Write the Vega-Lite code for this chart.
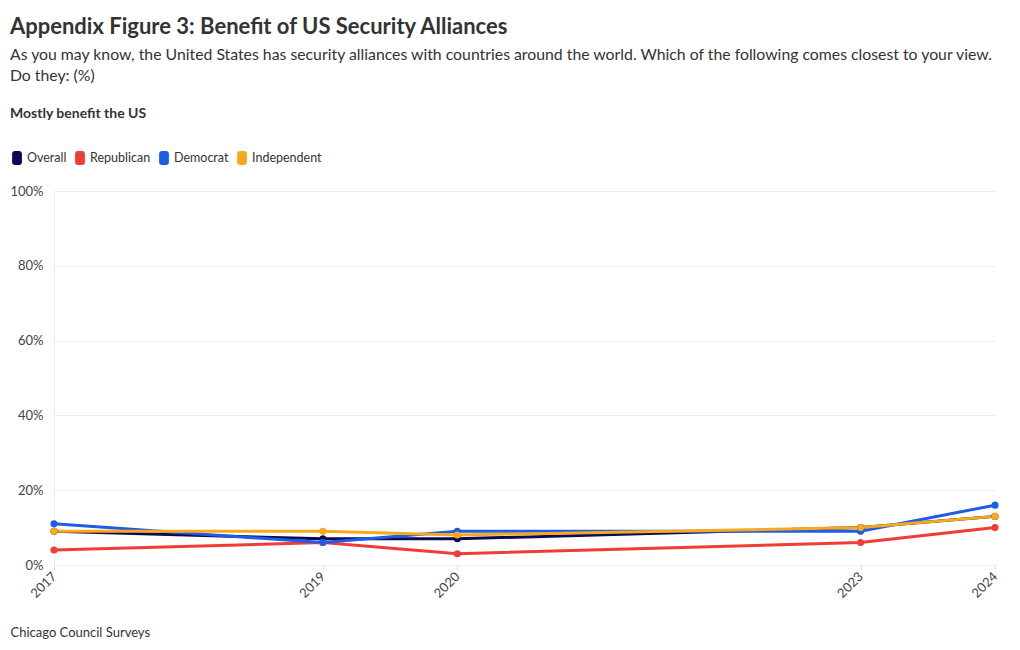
{
  "$schema": "https://vega.github.io/schema/vega-lite/v6.json",
  "autosize": "none",
  "width": 941,
  "height": 374,
  "padding": {"left": 54, "top": 191, "right": 25, "bottom": 85},
  "background": "white",
  "title": {
    "text": "Appendix Figure 3: Benefit of US Security Alliances",
    "subtitle": ["As you may know, the United States has security alliances with countries around the world. Which of the following comes closest to your view.", "Do they: (%)"],
    "anchor": "start",
    "frame": "bounds",
    "font": "Lato",
    "fontSize": 22,
    "fontWeight": "bold",
    "color": "#333333",
    "subtitleFont": "Lato",
    "subtitleFontSize": 15.8,
    "subtitleColor": "#333333",
    "subtitlePadding": 9,
    "subtitleLineHeight": 21,
    "offset": 22
  },
  "data": {
    "values": [
      {"year": 2017, "group": "Overall", "value": 9},
      {"year": 2019, "group": "Overall", "value": 7},
      {"year": 2020, "group": "Overall", "value": 7},
      {"year": 2023, "group": "Overall", "value": 10},
      {"year": 2024, "group": "Overall", "value": 13},
      {"year": 2017, "group": "Republican", "value": 4},
      {"year": 2019, "group": "Republican", "value": 6},
      {"year": 2020, "group": "Republican", "value": 3},
      {"year": 2023, "group": "Republican", "value": 6},
      {"year": 2024, "group": "Republican", "value": 10},
      {"year": 2017, "group": "Democrat", "value": 11},
      {"year": 2019, "group": "Democrat", "value": 6},
      {"year": 2020, "group": "Democrat", "value": 9},
      {"year": 2023, "group": "Democrat", "value": 9},
      {"year": 2024, "group": "Democrat", "value": 16},
      {"year": 2017, "group": "Independent", "value": 9},
      {"year": 2019, "group": "Independent", "value": 9},
      {"year": 2020, "group": "Independent", "value": 8},
      {"year": 2023, "group": "Independent", "value": 10},
      {"year": 2024, "group": "Independent", "value": 13}
    ]
  },
  "encoding": {
    "x": {
      "field": "year",
      "type": "quantitative",
      "scale": {"domain": [2017, 2024], "nice": false, "zero": false},
      "axis": {
        "values": [2017, 2019, 2020, 2023, 2024],
        "format": "d",
        "labelAngle": -45,
        "labelAlign": "right",
        "labelBaseline": "middle",
        "labelPadding": 4,
        "labelFont": "Lato",
        "labelFontSize": 13,
        "labelColor": "#444444",
        "grid": false,
        "domain": false,
        "ticks": true,
        "tickColor": "#dddddd",
        "tickSize": 5,
        "title": "Chicago Council Surveys",
        "titleFont": "Lato",
        "titleFontSize": 13,
        "titleFontWeight": "normal",
        "titleColor": "#333333",
        "titleAlign": "left",
        "titleAnchor": "start",
        "titleBaseline": "middle",
        "titleX": -44,
        "titleY": 67
      }
    },
    "y": {
      "field": "value",
      "type": "quantitative",
      "scale": {"domain": [0, 100], "nice": false},
      "axis": {
        "values": [0, 20, 40, 60, 80, 100],
        "labelExpr": "datum.value + '%'",
        "labelFont": "Lato",
        "labelFontSize": 13,
        "labelColor": "#444444",
        "labelPadding": 11,
        "ticks": false,
        "domain": true,
        "domainColor": "#eeeeee",
        "gridColor": "#eeeeee",
        "title": null
      }
    },
    "color": {
      "field": "group",
      "type": "nominal",
      "scale": {
        "domain": ["Overall", "Republican", "Democrat", "Independent"],
        "range": ["#0a0a55", "#f03c36", "#1c5ce8", "#f7a81b"]
      },
      "legend": {
        "title": "Mostly benefit the US",
        "orient": "none",
        "legendX": -44,
        "legendY": -84,
        "direction": "horizontal",
        "titleFont": "Lato",
        "titleFontSize": 14,
        "titleFontWeight": "bold",
        "titleColor": "#333333",
        "titlePadding": 30,
        "labelFont": "Lato",
        "labelFontSize": 12.5,
        "labelColor": "#333333",
        "labelOffset": 3,
        "columnPadding": 6,
        "symbolType": "M-0.3,-1 H0.3 A0.4,0.4 0 0 1 0.7,-0.6 V0.6 A0.4,0.4 0 0 1 0.3,1 H-0.3 A0.4,0.4 0 0 1 -0.7,0.6 V-0.6 A0.4,0.4 0 0 1 -0.3,-1 Z",
        "symbolSize": 196,
        "symbolStrokeWidth": 0
      }
    }
  },
  "layer": [
    {"mark": {"type": "line", "strokeWidth": 3}},
    {"mark": {"type": "point", "filled": true, "size": 50, "opacity": 1}}
  ],
  "config": {"view": {"stroke": null}}
}
